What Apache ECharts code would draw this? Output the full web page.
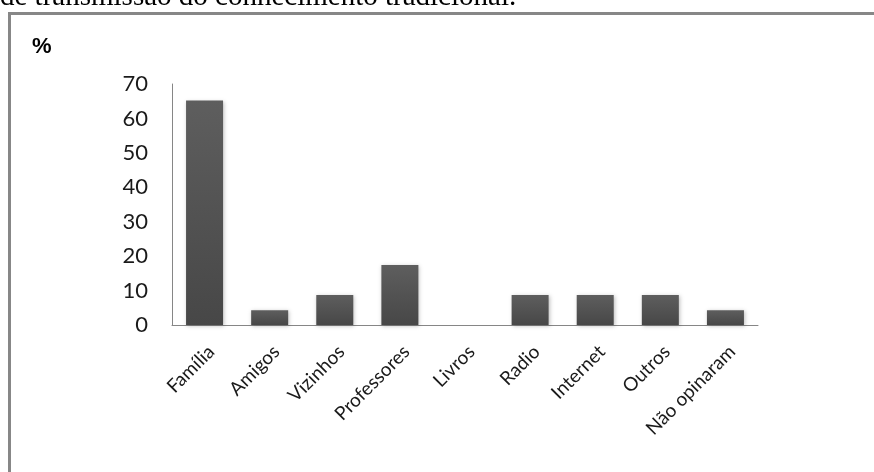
<!DOCTYPE html>
<html>
<head>
<meta charset="utf-8">
<style>
html,body{margin:0;padding:0;background:#fff;}
#chart{width:874px;height:472px;}
</style>
<script src="https://cdn.jsdelivr.net/npm/echarts@6/dist/echarts.min.js"></script>
</head>
<body>
<div id="chart"></div>
<script>
var categories = ['Família','Amigos','Vizinhos','Professores','Livros','Radio','Internet','Outros','Não opinaram'];
var values = [65.2, 4.3, 8.7, 17.4, 0, 8.7, 8.7, 8.7, 4.3];
var yMin = 0, yMax = 70, yStep = 10;
var unitLabel = '%';
var headerText = 'de transmissão do conhecimento tradicional.';

var chart = echarts.init(document.getElementById('chart'));
chart.setOption({
  backgroundColor: '#ffffff',
  animation: false,
  grid: {left: 172, right: 116, top: 84, bottom: 147, containLabel: false},
  xAxis: {
    type: 'category',
    data: categories,
    axisLine: {show: true, lineStyle: {color: '#868686', width: 1}},
    axisTick: {show: false},
    axisLabel: {rotate: 45, margin: 17, verticalAlign: 'top', color: '#1a1a1a', fontFamily: 'Lato', fontSize: 19, interval: 0}
  },
  yAxis: {
    type: 'value',
    min: yMin, max: yMax, interval: yStep,
    axisLine: {show: true, lineStyle: {color: '#868686', width: 1}},
    axisTick: {show: false},
    splitLine: {show: false},
    axisLabel: {margin: 24, color: '#1a1a1a', fontFamily: 'Lato', fontSize: 22}
  },
  series: [{
    type: 'bar',
    data: values,
    barWidth: 37,
    itemStyle: {
      color: new echarts.graphic.LinearGradient(0, 0, 0, 1, [
        {offset: 0, color: '#5e5e5e'},
        {offset: 1, color: '#474747'}
      ]),
      shadowColor: 'rgba(0,0,0,0.25)',
      shadowBlur: 4,
      shadowOffsetX: 1,
      shadowOffsetY: 1
    }
  }],
  graphic: [
    {type: 'text', left: 0, top: -17, style: {text: headerText, font: '29px "Liberation Serif"', fill: '#000'}},
    {type: 'line', shape: {x1: 8, y1: 13.5, x2: 874, y2: 13.5}, style: {stroke: '#878787', lineWidth: 3}},
    {type: 'line', shape: {x1: 9.5, y1: 12, x2: 9.5, y2: 472}, style: {stroke: '#878787', lineWidth: 3}},
    {type: 'text', left: 32, top: 36, style: {text: unitLabel, font: 'bold 22px "Liberation Sans"', fill: '#000'}}
  ]
});
</script>
</body>
</html>
